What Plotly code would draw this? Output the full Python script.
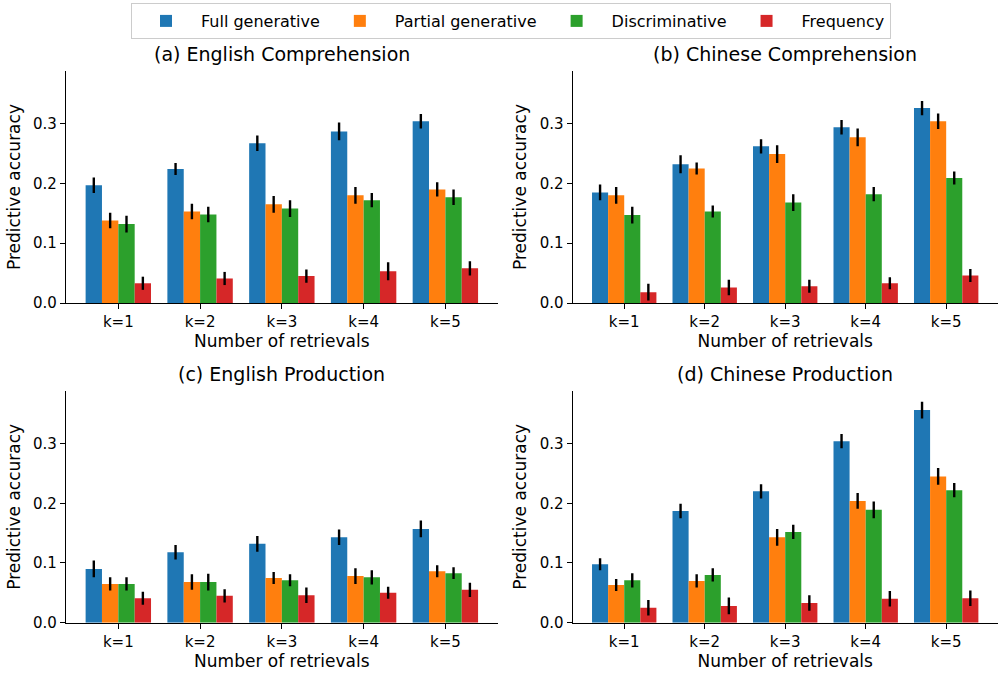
import plotly.graph_objects as go

categories = ["k=1", "k=2", "k=3", "k=4", "k=5"]
series_names = ["Full generative", "Partial generative", "Discriminative", "Frequency"]
colors = ["#1f77b4", "#ff7f0e", "#2ca02c", "#d62728"]

# (a) English Comprehension
en_comp_full = [0.197, 0.224, 0.267, 0.287, 0.304]
en_comp_partial = [0.138, 0.153, 0.165, 0.180, 0.190]
en_comp_disc = [0.132, 0.148, 0.158, 0.172, 0.177]
en_comp_freq = [0.033, 0.041, 0.045, 0.053, 0.058]
en_comp_full_err = [0.013, 0.010, 0.013, 0.015, 0.012]
en_comp_partial_err = [0.013, 0.013, 0.014, 0.014, 0.012]
en_comp_disc_err = [0.014, 0.013, 0.014, 0.012, 0.013]
en_comp_freq_err = [0.011, 0.011, 0.011, 0.015, 0.012]

# (b) Chinese Comprehension
zh_comp_full = [0.185, 0.232, 0.262, 0.294, 0.326]
zh_comp_partial = [0.180, 0.225, 0.249, 0.277, 0.304]
zh_comp_disc = [0.147, 0.153, 0.168, 0.182, 0.209]
zh_comp_freq = [0.018, 0.026, 0.028, 0.033, 0.046]
zh_comp_full_err = [0.013, 0.015, 0.012, 0.012, 0.012]
zh_comp_partial_err = [0.014, 0.010, 0.015, 0.015, 0.013]
zh_comp_disc_err = [0.014, 0.010, 0.014, 0.012, 0.011]
zh_comp_freq_err = [0.014, 0.013, 0.011, 0.010, 0.011]

# (c) English Production
en_prod_full = [0.090, 0.118, 0.132, 0.143, 0.157]
en_prod_partial = [0.065, 0.068, 0.075, 0.078, 0.086]
en_prod_disc = [0.065, 0.068, 0.071, 0.076, 0.083]
en_prod_freq = [0.041, 0.045, 0.046, 0.050, 0.055]
en_prod_full_err = [0.014, 0.012, 0.013, 0.013, 0.014]
en_prod_partial_err = [0.011, 0.013, 0.010, 0.013, 0.010]
en_prod_disc_err = [0.011, 0.014, 0.010, 0.012, 0.010]
en_prod_freq_err = [0.011, 0.011, 0.013, 0.010, 0.012]

# (d) Chinese Production
zh_prod_full = [0.098, 0.187, 0.220, 0.304, 0.356]
zh_prod_partial = [0.063, 0.070, 0.143, 0.204, 0.245]
zh_prod_disc = [0.071, 0.080, 0.152, 0.189, 0.222]
zh_prod_freq = [0.025, 0.028, 0.033, 0.040, 0.041]
zh_prod_full_err = [0.010, 0.012, 0.012, 0.012, 0.014]
zh_prod_partial_err = [0.010, 0.011, 0.014, 0.013, 0.014]
zh_prod_disc_err = [0.012, 0.011, 0.012, 0.014, 0.012]
zh_prod_freq_err = [0.013, 0.014, 0.013, 0.013, 0.013]

panel_titles = ["(a) English Comprehension", "(b) Chinese Comprehension",
                "(c) English Production", "(d) Chinese Production"]
panels = [
    ([en_comp_full, en_comp_partial, en_comp_disc, en_comp_freq],
     [en_comp_full_err, en_comp_partial_err, en_comp_disc_err, en_comp_freq_err]),
    ([zh_comp_full, zh_comp_partial, zh_comp_disc, zh_comp_freq],
     [zh_comp_full_err, zh_comp_partial_err, zh_comp_disc_err, zh_comp_freq_err]),
    ([en_prod_full, en_prod_partial, en_prod_disc, en_prod_freq],
     [en_prod_full_err, en_prod_partial_err, en_prod_disc_err, en_prod_freq_err]),
    ([zh_prod_full, zh_prod_partial, zh_prod_disc, zh_prod_freq],
     [zh_prod_full_err, zh_prod_partial_err, zh_prod_disc_err, zh_prod_freq_err]),
]
y_ticks = [0.0, 0.1, 0.2, 0.3]
y_max = 0.388

W, H = 1006, 675
# pixel boxes (left, right, top, bottom)
boxes = [(66, 497.7, 71, 303), (572.7, 997.7, 71, 303),
         (66, 497.7, 391, 622.7), (572.7, 997.7, 391, 622.7)]

FONT = "DejaVu Sans"
fig = go.Figure()
layout = {}
annotations = []
for i, ((vals, errs), box) in enumerate(zip(panels, boxes)):
    n = i + 1
    xa = "x" if n == 1 else f"x{n}"
    ya = "y" if n == 1 else f"y{n}"
    for s in range(4):
        fig.add_trace(go.Bar(
            x=categories, y=vals[s], name=series_names[s],
            marker=dict(color=colors[s], line=dict(width=0)),
            error_y=dict(type="data", array=errs[s], color="black", thickness=2.4, width=0),
            xaxis=xa, yaxis=ya, showlegend=(i == 0), legendgroup=series_names[s],
            offsetgroup=str(s),
        ))
    l, r, t, b = box
    xk = "xaxis" if n == 1 else f"xaxis{n}"
    yk = "yaxis" if n == 1 else f"yaxis{n}"
    layout[xk] = dict(
        domain=[l / W, r / W], anchor=ya, type="category", range=[-0.64, 4.64],
        showline=True, linecolor="black", linewidth=1.2, ticks="outside", ticklen=5,
        tickwidth=1.2, tickcolor="black", showgrid=False, zeroline=False,
        tickfont=dict(family=FONT, size=15, color="black"),
        title=dict(text="Number of retrievals", font=dict(family=FONT, size=17, color="black"), standoff=5),
    )
    layout[yk] = dict(
        domain=[1 - b / H, 1 - t / H], anchor=xa, range=[0, y_max],
        tickvals=y_ticks, ticktext=["0.0", "0.1", "0.2", "0.3"],
        showline=True, linecolor="black", linewidth=1.2, ticks="outside", ticklen=5,
        tickwidth=1.2, tickcolor="black", showgrid=False, zeroline=False,
        tickfont=dict(family=FONT, size=15, color="black"),
        title=dict(text="Predictive accuracy", font=dict(family=FONT, size=17, color="black"), standoff=8),
    )
    annotations.append(dict(
        text=panel_titles[i], x=(l + r) / 2 / W, y=1 - (t - 4) / H, xref="paper", yref="paper",
        xanchor="center", yanchor="bottom", showarrow=False,
        font=dict(family=FONT, size=19, color="black"),
    ))

fig.update_layout(
    width=W, height=H, margin=dict(l=0, r=0, t=0, b=0, autoexpand=False),
    paper_bgcolor="white", plot_bgcolor="white",
    barmode="group", bargap=0.2, bargroupgap=0,
    font=dict(family=FONT, size=15, color="black"),
    annotations=annotations,
    legend=dict(orientation="h", x=511 / W, y=1 - 3 / H, xanchor="center", yanchor="top",
                bgcolor="white", bordercolor="#cccccc", borderwidth=1,
                font=dict(family=FONT, size=16, color="black"), itemwidth=60),
    **layout,
)
fig.write_html("out.html", config={"displayModeBar": False},
               post_script="document.body.style.margin='0';document.body.style.overflow='hidden';")
